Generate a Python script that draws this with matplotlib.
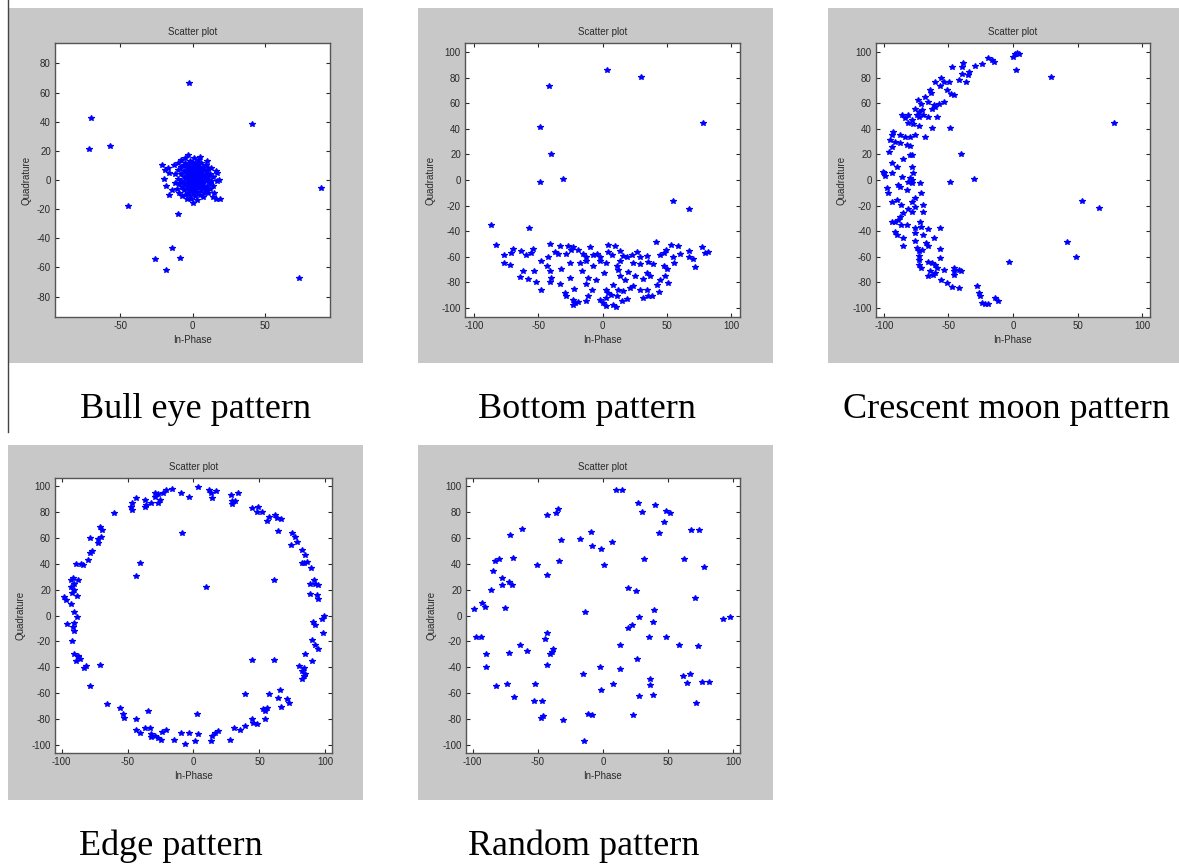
import numpy as np
import matplotlib
matplotlib.use("Agg")
import matplotlib.pyplot as plt
from matplotlib.patches import Rectangle
from matplotlib.lines import Line2D

plt.rcParams["axes.unicode_minus"] = False

# In-Phase / Quadrature points
bull_points = [
    (-2.5, 66.4), (-70.4, 42.3), (-71.6, 21.3), (-57, 23.3), (41.3, 38.2), (88.7, -5.3),
    (-44.3, -17.8), (-10.2, -23.6), (-13.9, -46.9), (-25.6, -54.5), (-8.3, -53.3),
    (-18.5, -62), (73.7, -67),
    (-21, 10), (-19, 7), (-20, 1), (-17, 8), (-16, 5), (-18, -4), (-16, -10), (-14, -7),
    (-13, 10), (-12, 4), (-12, -2), (-11, -6), (-10, 12), (-10, 7), (-10, 1), (-9, -3),
    (-9, -9), (-8, 14), (-8, 9), (-8, 4), (-8, -1), (-7, -5), (-7, -11), (-6, 10), (-6, 6),
    (-6, 2), (-6, -2), (-6, -7), (-5, 15), (-5, 12), (-5, -10), (-4, 8), (-4, 4), (-4, 0),
    (-4, -4), (-4, -13), (-3, 17), (-3, 11), (-3, 6), (-3, 2), (-3, -2), (-3, -6), (-3, -9),
    (-2, 13), (-2, 9), (-2, 3), (-2, -1), (-2, -4), (-2, -11), (-1, 7), (-1, 5), (-1, 1),
    (-1, -3), (-1, -7), (-1, -13), (0, 12), (0, 8), (0, 4), (0, 0), (0, -2), (0, -5),
    (0, -9), (0, -16), (1, 15), (1, 10), (1, 6), (1, 2), (1, -1), (1, -4), (1, -7), (2, 12),
    (2, 8), (2, 4), (2, 0), (2, -3), (2, -6), (2, -11), (3, 7), (3, 3), (3, -1), (3, -4),
    (3, -8), (3, -14), (4, 14), (4, 10), (4, 5), (4, 1), (4, -2), (4, -5), (5, 16), (5, 8),
    (5, 3), (5, -1), (5, -3), (5, -10), (6, 12), (6, 6), (6, 2), (6, -4), (6, -7), (7, 9),
    (7, 4), (7, 0), (7, -2), (7, -12), (8, 7), (8, 2), (8, -5), (8, -9), (9, 10), (9, 4),
    (9, -1), (9, -7), (10, 13), (10, 6), (10, 0), (10, -4), (11, 8), (11, 2), (11, -9),
    (12, 4), (12, -2), (12, -6), (13, 8), (13, -1), (14, -12), (14, 2), (14, -4), (16, 6),
    (15, -9), (17, -1), (17, 5), (16, -13), (18, 0), (19, -13),
]

bottom_points = [
    (3.6, 85.7), (29.9, 80.5), (-41.6, 73.5), (-48.8, 41.6), (78.4, 44.2), (-40, 20.3),
    (-48.8, -1.3), (-30.6, 0.5), (54.5, -16.6), (67.5, -22.6), (-87, -35), (-57.4, -37.7),
    (-83.1, -50.7), (-41.1, -49.9), (-33.3, -51.2), (-26.8, -51.4), (-22.9, -52.0),
    (-9.4, -52.0), (3.9, -50.7), (9.6, -51.2), (41.6, -48.1), (53.0, -50.4), (59.0, -51.4),
    (77.7, -52.0),
    (-69.6, -53.8), (-76.6, -58.5), (-70.9, -57.2), (-63.1, -55.1), (-59.2, -58.5),
    (-55.3, -57.2), (-54.0, -54.0), (-42.4, -59.8), (-37.2, -56.6), (-34.6, -57.7),
    (-28.6, -57.7), (-24.2, -54.6), (-19.0, -54.6), (-15.1, -57.7), (-13.0, -59.8),
    (-7.3, -58.5), (-4.2, -57.7), (-2.1, -60.3), (4.4, -56.6), (7.5, -58.5), (13.5, -55.1),
    (16.1, -59.2), (18.7, -60.3), (22.6, -58.5), (26.5, -56.6), (29.1, -59.8), (34.3, -59.2),
    (44.7, -58.5), (47.8, -57.2), (49.4, -54.6), (55.1, -60.3), (60.3, -57.7), (67.5, -55.1),
    (67.5, -59.8), (70.7, -61.8), (79.7, -57.2), (82.3, -55.9),
    (-76.6, -64.9), (-72.2, -66.2), (-47.5, -63.6), (-43.1, -67.5), (-41.1, -70.7),
    (-32.0, -69.4), (-25.5, -64.9), (-17.7, -64.9), (-12.5, -63.6), (-7.3, -67.5),
    (-2.1, -63.6), (3.1, -64.9), (10.9, -67.5), (13.5, -63.6), (23.9, -64.9), (29.1, -65.5),
    (35.6, -64.4), (39.0, -65.5), (47.8, -67.5), (49.9, -69.6), (55.9, -64.9), (72.0, -68.1),
    (-61.8, -71.4), (-53.5, -71.4), (-57.9, -77.2), (-63.9, -76.1), (-39.8, -76.6),
    (-25.5, -76.6), (-15.6, -71.4), (-11.2, -76.6), (-4.7, -77.9), (1.3, -72.7),
    (12.2, -70.1), (13.5, -74.8), (17.4, -77.9), (20.0, -72.2), (25.2, -75.3), (31.2, -77.4),
    (34.3, -72.7), (36.9, -75.3), (44.7, -77.9), (48.6, -74.8), (51.2, -80.5),
    (-51.4, -80.0), (-47.5, -85.7), (-41.1, -80.0), (-33.3, -81.3), (-22.1, -85.2),
    (-12.5, -81.3), (-7.8, -85.7), (3.1, -85.7), (4.4, -88.3), (8.3, -81.8), (12.2, -85.7),
    (16.1, -87.0), (21.3, -84.4), (23.9, -82.6), (29.1, -85.7), (34.3, -86.3), (42.1, -81.8),
    (44.2, -87.8),
    (-29.4, -88.3), (-28.1, -90.9), (-22.9, -93.5), (-21.6, -96.1), (-19.0, -95.6),
    (-22.9, -97.4), (-11.2, -90.9), (-12.5, -94.8), (-2.1, -94.0), (0.0, -96.1),
    (3.1, -92.2), (3.1, -98.7), (7.0, -89.6), (8.3, -97.4), (10.4, -99.2), (10.9, -90.9),
    (14.8, -94.8), (18.7, -93.0), (31.7, -92.2), (35.6, -90.9), (38.2, -90.4),
]

crescent_points = [
    (1.3, 98.7), (0, 96.1), (3.1, 99.2), (4.4, 98.2), (2.6, 85.7), (29.7, 80.5), (78.3, 44.2),
    (53.5, -16.6), (66.4, -22.1), (41.9, -48.1), (49.1, -60.3), (-3.4, -64.4), (-30.5, 0.8),
    (-49.1, -1.3), (-40.1, 20.3), (-49.1, 40.8),
    (-19.4, 95.3), (-16.3, 93.5), (-15.0, 92.2), (-24.0, 90.9), (-29.7, 89.1), (-38.8, 91.7),
    (-39.5, 88.3), (-47.3, 88.3), (-34.4, 84.4), (-35.1, 81.8), (-39.5, 83.1), (-42.1, 77.9),
    (-36.4, 76.6), (-49.9, 76.6), (-55.6, 80.0), (-53.7, 76.6), (-60.2, 76.6), (-56.3, 73.2),
    (-51.2, 70.6), (-46.0, 66.2), (-47.8, 67.5), (-64.6, 70.1), (-63.3, 68.1), (-68.0, 64.9),
    (-73.6, 62.3), (-71.1, 59.2), (-65.4, 61.0), (-61.5, 58.4), (-57.6, 59.2), (-53.7, 61.0),
    (-62.8, 55.8), (-60.2, 57.1), (-75.7, 55.1), (-73.1, 53.2), (-70.5, 54.5), (-73.1, 49.4),
    (-70.0, 50.6), (-74.4, 50.6), (-65.4, 49.4), (-58.9, 49.4), (-85.5, 50.6), (-83.5, 48.8),
    (-80.9, 50.6), (-78.3, 46.8), (-80.9, 44.2), (-77.0, 43.6), (-73.1, 42.1), (-62.8, 40.3),
    (-92.5, 37.7), (-93.3, 35.1), (-87.3, 35.1), (-83.5, 33.8), (-79.6, 33.8), (-75.7, 35.1),
    (-68.0, 33.2), (-95.1, 31.2), (-91.2, 29.9), (-87.3, 28.6), (-82.2, 27.3), (-79.6, 26.8),
    (-93.8, 26.0), (-95.9, 22.1), (-79.6, 19.5), (-78.3, 19.5), (-84.8, 16.1), (-93.8, 13.0),
    (-89.9, 10.4), (-78.3, 9.9), (-100.3, 6.5), (-99.5, 5.2), (-99.0, 3.4), (-93.8, 5.2),
    (-85.5, 2.6), (-79.6, 1.3), (-78.3, 0), (-80.9, -1.3), (-77.0, 5.2), (-77.8, -2.1),
    (-71.8, -2.6), (-71.1, -10.4), (-97.7, -6.5), (-96.4, -10.4), (-88.6, -3.9),
    (-87.3, -5.2), (-82.2, -7.8), (-93.8, -16.9), (-89.9, -15.6), (-86.6, -19.5),
    (-78.3, -16.9), (-76.2, -14.3), (-75.7, -20.8), (-69.3, -19.5), (-80.9, -22.9),
    (-78.3, -24.7), (-69.3, -24.7), (-84.8, -26.0), (-87.3, -28.6), (-89.1, -31.2),
    (-93.8, -32.5), (-91.2, -33.0), (-82.2, -35.1), (-86.6, -35.1), (-75.7, -37.7),
    (-71.1, -36.4), (-71.8, -32.5), (-65.4, -38.4), (-56.3, -37.7), (-91.2, -40.3),
    (-89.9, -42.9), (-84.8, -45.5), (-84.8, -51.4), (-75.7, -41.6), (-69.3, -42.9),
    (-61.0, -45.5), (-76.2, -47.3), (-67.5, -49.4), (-66.1, -51.9), (-74.4, -53.2),
    (-73.1, -55.1), (-70.5, -54.5), (-56.3, -54.0), (-73.1, -59.2), (-73.1, -62.3),
    (-56.3, -61.0), (-65.4, -64.4), (-62.8, -64.9), (-73.1, -66.2), (-71.1, -68.8),
    (-60.2, -66.2), (-58.9, -68.8), (-64.6, -71.4), (-61.8, -74.0), (-60.2, -72.7),
    (-65.4, -74.8), (-53.7, -70.6), (-46.0, -68.8), (-46.0, -71.4), (-41.9, -70.1),
    (-40.6, -71.4), (-46.0, -74.0), (-55.6, -77.9), (-51.2, -80.5), (-47.3, -83.6),
    (-42.1, -84.4), (-27.9, -83.1), (-26.6, -88.3), (-25.3, -90.9), (-24.0, -96.1),
    (-21.4, -96.6), (-19.4, -96.6), (-13.7, -92.2), (-11.6, -94.8),
]

edge_points = [
    (-16.0, 97.4), (-20.6, 96.4), (-23.1, 94.3), (-26.9, 93.5), (-29.4, 94.3), (-28.9, 91.7),
    (-25.6, 89.1), (-26.9, 86.6), (-32.5, 86.6), (-37.1, 89.1), (-35.8, 85.3), (-36.5, 83.5),
    (-43.4, 90.4), (-46.7, 86.6), (-47.2, 83.5), (-46.4, 81.4), (-59.9, 78.8), (-9.6, 94.8),
    (-3.3, 91.7), (3.6, 99.0), (11.7, 96.9), (13.2, 94.3), (17.0, 95.6), (14.2, 90.4),
    (-8.4, 63.8), (28.4, 93.0), (28.9, 87.9), (31.5, 88.6), (33.5, 94.8), (29.4, 86.0),
    (44.7, 82.7), (48.7, 84.0), (47.9, 80.1), (52.3, 79.6), (55.6, 73.1), (56.9, 76.2),
    (61.9, 77.5), (63.2, 74.9), (66.5, 74.2), (64.0, 65.4), (74.6, 63.3), (76.6, 60.7),
    (78.4, 56.8), (74.1, 54.3), (82.2, 50.4), (84.8, 46.5), (82.2, 40.6), (83.5, 40.1),
    (86.0, 41.3), (89.3, 37.0), (60.7, 27.1), (91.1, 27.1), (92.4, 24.5), (88.6, 24.5),
    (94.4, 23.3), (88.6, 16.8), (93.4, 15.5), (94.4, 12.9),
    (98.7, 0), (97.5, -2.6), (90.4, -5.2), (92.4, -7.0), (89.8, -18.9), (92.4, -22.5),
    (94.4, -25.8), (98.0, -13.7), (84.8, -29.7), (89.8, -35.4), (80.2, -38.8), (83.5, -40.1),
    (82.2, -42.6), (84.8, -45.2), (82.2, -49.1), (83.5, -46.5), (44.7, -34.4), (61.4, -34.4),
    (39.1, -60.7), (56.9, -60.2), (65.5, -57.6), (64.2, -63.3), (66.2, -70.5), (70.6, -64.6),
    (72.3, -67.2), (55.6, -71.6), (54.3, -73.6), (53.0, -72.4), (54.3, -80.1), (44.7, -80.1),
    (45.4, -82.7), (47.9, -83.5), (39.1, -85.3), (35.3, -87.9), (31.0, -87.1),
    (27.7, -95.6), (18.8, -89.1), (16.2, -90.4), (13.7, -93.0), (13.2, -96.4), (3.6, -91.7),
    (1.5, -96.9), (2.3, -75.7), (-3.3, -90.4), (-6.6, -99.0), (-9.1, -90.4), (-14.7, -95.6),
    (-21.1, -88.6), (-23.6, -90.0), (-24.4, -95.6), (-26.9, -94.8), (-29.4, -93.0),
    (-32.0, -91.7), (-33.2, -86.6), (-36.5, -86.6), (-34.5, -73.6), (-32.5, -93.8),
    (-43.4, -80.1), (-43.4, -87.9), (-40.9, -90.4), (-53.6, -76.2), (-52.8, -78.8),
    (-56.1, -71.1), (-65.5, -68.0), (-70.6, -38.0), (-78.2, -54.3), (-82.7, -40.1),
    (-81.5, -38.8), (-85.8, -33.6), (-87.8, -32.3), (-89.1, -34.9), (-87.3, -31.0),
    (-90.4, -29.7), (-92.4, -19.9), (-91.6, -9.0), (-90.9, -5.9), (-88.6, -1.3), (-90.9, 2.6),
    (-90.9, -12.1), (-95.9, -6.5), (-98.0, 14.2), (-96.7, 11.6), (-92.9, 9.0), (-88.3, 14.7),
    (-92.4, 17.3), (-90.9, 19.4), (-92.9, 22.0), (-90.9, 24.5), (-92.9, 27.1), (-91.6, 29.2),
    (-87.8, 27.6),
    (-89.1, 39.5), (-85.3, 39.5), (-84.0, 38.8), (-80.2, 42.6), (-78.2, 48.3), (-77.2, 49.9),
    (-78.2, 59.4), (-72.1, 55.6), (-72.1, 58.7), (-70.1, 60.2), (-70.6, 68.5), (-69.5, 65.9),
    (-40.9, 40.6), (-43.4, 30.2), (9.1, 22.0),
]

random_points = [
    (9.7, 96.4), (14.9, 96.9), (27.2, 87.1), (29.7, 80.1), (40.0, 85.3), (48.2, 80.9),
    (51.5, 79.3), (46.4, 71.8), (43.1, 63.3), (67.4, 65.9), (73.3, 65.9), (31.5, 43.2),
    (62.3, 43.2), (77.7, 37.5), (70.5, 13.7), (-42.8, 77.5), (-36.4, 79.3), (-34.6, 81.9),
    (-62.1, 66.7), (-71.5, 62.0), (-32.1, 58.1), (-17.7, 58.7), (-9.5, 64.6), (-8.2, 53.5),
    (-1.8, 51.2), (6.7, 56.8), (0.8, 38.8), (-33.8, 42.1), (-50.5, 38.8), (-43.3, 31.5),
    (-69.0, 44.7), (-80.0, 43.9), (-82.6, 41.9), (-84.4, 34.1), (-77.4, 28.9), (-77.4, 23.3),
    (-72.3, 25.8), (-69.7, 23.8), (-85.6, 19.9), (-92.8, 9.6), (-90.3, 6.5), (-99.2, 5.2),
    (-74.9, 5.9), (-97.2, -16.3), (-93.6, -16.8), (-89.5, -29.7), (-89.5, -39.5),
    (-81.8, -54.3), (-73.6, -52.5), (-72.3, -29.2), (-68.5, -62.8), (-63.8, -22.7),
    (-58.2, -27.6), (-42.8, -13.7), (-44.1, -18.1), (-38.5, -25.8), (-39.2, -28.4),
    (-40.3, -29.7), (-42.8, -38.0), (-51.8, -53.0), (-53.1, -65.9), (-46.7, -65.9),
    (-45.9, -77.5), (-47.4, -79.3), (-30.5, -80.9), (-14.6, -96.4), (-11.5, -75.7),
    (-8.2, -76.7), (-15.1, -45.2), (-13.8, 2.6), (-2.6, -39.5), (-1.8, -57.6), (7.7, -53.0),
    (13.1, -41.3), (13.1, -22.5), (19.2, -9.8), (22.6, -7.2), (19.5, 21.4), (25.1, 18.9),
    (27.7, -0.8), (26.4, -33.6), (27.7, -62.0), (23.3, -77.0), (34.9, -16.8), (36.2, -48.6),
    (35.9, -53.5), (39.2, 3.9), (38.7, -5.2), (38.7, -61.2), (48.2, -16.3), (58.5, -22.7),
    (61.0, -46.5), (64.4, -52.2), (66.9, -45.2), (71.3, -67.2), (73.1, -23.8), (75.9, -50.9),
    (81.0, -50.9), (92.3, -2.6), (97.2, -0.8),
]

captions = ["Bull eye pattern", "Bottom pattern", "Crescent moon pattern",
            "Edge pattern", "Random pattern"]

W, H = 1179, 865
fig = plt.figure(figsize=(W / 100, H / 100), dpi=100)
fig.patch.set_facecolor("white")


def px_rect(x0, y0, x1, y1):
    # pixel box (top-left origin) -> figure fraction [l, b, w, h]
    return [x0 / W, 1 - y1 / H, (x1 - x0) / W, (y1 - y0) / H]


gray = "#c8c8c8"
panels = [
    # gray box, axes box, xlim, ylim, xticks, yticks, points
    ((8, 8, 363, 363), (55, 43, 330, 317), 95, 94, [-50, 0, 50], range(-80, 81, 20), bull_points),
    ((418, 8, 773, 363), (465, 43, 740, 317), 107, 107, range(-100, 101, 50), range(-100, 101, 20), bottom_points),
    ((828, 8, 1179, 363), (876, 43, 1150, 317), 106, 107, range(-100, 101, 50), range(-100, 101, 20), crescent_points),
    ((8, 445, 363, 800), (55, 478, 332, 753), 105, 106, range(-100, 101, 50), range(-100, 101, 20), edge_points),
    ((418, 445, 773, 800), (466, 478, 740, 753), 105, 106, range(-100, 101, 50), range(-100, 101, 20), random_points),
]

for gbox, abox, xl, yl, xt, yt, pts in panels:
    l, b, w, h = px_rect(*gbox)
    fig.patches.append(Rectangle((l, b), w, h, transform=fig.transFigure,
                                 facecolor=gray, edgecolor="none", zorder=-10))
    ax = fig.add_axes(px_rect(*abox))
    ax.set_zorder(1)
    ax.set_facecolor("white")
    pts = np.array(pts)
    ax.plot(pts[:, 0], pts[:, 1], "*", color="blue", markersize=3.8, markeredgewidth=0.9)
    ax.set_xlim(-xl, xl)
    ax.set_ylim(-yl, yl)
    ax.set_xticks(list(xt))
    ax.set_yticks(list(yt))
    ax.tick_params(direction="in", length=3, width=0.8, top=True, right=True,
                   labelsize=7, colors="#2a2a2a", pad=3)
    for s in ax.spines.values():
        s.set_color("#555555")
        s.set_linewidth(1.0)
    ax.set_title("Scatter plot", fontsize=7, color="#2a2a2a", pad=6,
                 family="Liberation Sans")
    ax.set_xlabel("In-Phase", fontsize=7, color="#2a2a2a", labelpad=3,
                  family="Liberation Sans")
    ax.set_ylabel("Quadrature", fontsize=7, color="#2a2a2a", labelpad=4,
                  family="Liberation Sans")
    for t in ax.get_xticklabels() + ax.get_yticklabels():
        t.set_fontfamily("Liberation Sans")

# captions under each panel
cap_pos = [(195, 418), (587, 418), (1006, 418), (171, 855), (584, 855)]
for text, (cx, cy) in zip(captions, cap_pos):
    fig.text(cx / W, 1 - cy / H, text, ha="center", va="baseline",
             fontsize=26, family="Liberation Serif", color="black")

# thin dark border on the left of the top row
fig.add_artist(Line2D([8 / W, 8 / W], [1, 1 - 432 / H], transform=fig.transFigure,
                      color="#444444", linewidth=1.0))

fig.savefig("out.png", dpi=100, facecolor=fig.get_facecolor())
